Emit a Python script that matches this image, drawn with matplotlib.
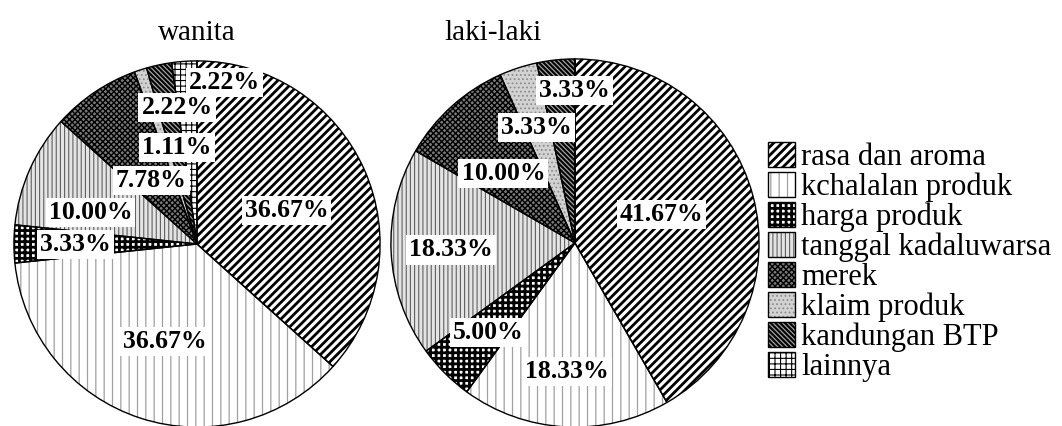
import matplotlib
matplotlib.use("Agg")
import matplotlib.pyplot as plt
from matplotlib.patches import Patch
from matplotlib.legend_handler import HandlerTuple

plt.rcParams['font.family'] = ['Liberation Serif', 'DejaVu Serif']

categories = ["rasa dan aroma", "kchalalan produk", "harga produk",
              "tanggal kadaluwarsa", "merek", "klaim produk",
              "kandungan BTP", "lainnya"]
wanita = [36.67, 36.67, 3.33, 10.00, 7.78, 1.11, 2.22, 2.22]
laki_laki = [41.67, 18.33, 5.00, 18.33, 10.00, 3.33, 3.33, 0.00]

# (face colour, hatch, hatch colour, hatch line width) per category
styles = [
    ("white",   "////",     "black",   2.0),
    ("white",   "||",       "#a0a0a0", 0.9),
    ("white",   "+++",      "black",   2.0),
    ("#e4e4e4", "||||",     "#606060", 0.8),
    ("#7a7a7a", "xxxxxx",   "black",   1.0),
    ("#d2d2d2", "....",     "#8c8c8c", 0.8),
    ("#a0a0a0", "\\" * 7,   "black",   1.5),
    ("white",   "+++",      "black",   0.8),
]

# label positions inside each pie, in units of the pie radius
wanita_label_xy = [(0.489, 0.185), (-0.174, -0.533), (-0.663, -0.005),
                   (-0.582, 0.174), (-0.250, 0.348), (-0.109, 0.527),
                   (-0.109, 0.745), (0.152, 0.880)]
laki_label_xy = [(0.470, 0.157), (-0.043, -0.697), (-0.470, -0.486),
                 (-0.676, -0.038), (-0.389, 0.378), (-0.211, 0.627),
                 (-0.005, 0.827), None]

W, H = 1062, 426
fig = plt.figure(figsize=(W / 100, H / 100), dpi=100)


def hatch_width(patch, lw):
    """Give a patch its own hatch line width."""
    if hasattr(patch, "set_hatch_linewidth"):
        patch.set_hatch_linewidth(lw)
    orig_draw = patch.draw

    def draw(renderer):
        with plt.rc_context({"hatch.linewidth": lw}):
            orig_draw(renderer)
    patch.draw = draw


def styled(patch, face, hatch, hcolor, hlw):
    patch.set_facecolor(face)
    patch.set_edgecolor(hcolor)
    patch.set_hatch(hatch)
    patch.set_linewidth(0)
    hatch_width(patch, hlw)


def draw_pie(cx, cy, r, values, label_xy):
    ax = fig.add_axes([(cx - r) / W, (H - cy - r) / H, 2 * r / W, 2 * r / H])
    wedges, _ = ax.pie(values, startangle=90, counterclock=False, radius=1)
    for w, (face, hatch, hcolor, hlw) in zip(wedges, styles):
        styled(w, face, hatch, hcolor, hlw)
    ax.pie(values, startangle=90, counterclock=False, radius=1,
           wedgeprops=dict(fill=False, edgecolor="black", linewidth=1.0))
    for v, xy in zip(values, label_xy):
        if xy is None or v <= 0:
            continue
        ax.text(xy[0], xy[1], f"{v:.2f}%", ha="center", va="center",
                fontsize=18.5, fontweight="bold",
                bbox=dict(boxstyle="square,pad=0.12", facecolor="white",
                          edgecolor="none"))
    ax.set_xlim(-1.005, 1.005)
    ax.set_ylim(-1.005, 1.005)
    ax.set_aspect("equal")
    ax.axis("off")
    return ax


draw_pie(197, 244, 184, wanita, wanita_label_xy)
draw_pie(575, 243, 185, laki_laki, laki_label_xy)

fig.text(197 / W, 1 - 33 / H, "wanita", ha="center", va="center", fontsize=21)
fig.text(493 / W, 1 - 33 / H, "laki-laki", ha="center", va="center", fontsize=21)

handles = []
for face, hatch, hcolor, hlw in styles:
    fillp = Patch(facecolor=face, edgecolor=hcolor, hatch=hatch, linewidth=0)
    edge = Patch(facecolor="none", edgecolor="black", linewidth=1.0)
    handles.append((fillp, edge))

leg = fig.legend(handles, categories, loc="upper left",
                 bbox_to_anchor=(768 / W, 1 - 142 / H), frameon=False,
                 fontsize=22, handlelength=0.88, handleheight=0.88,
                 handletextpad=0.2, labelspacing=0.0, borderpad=0,
                 borderaxespad=0,
                 handler_map={tuple: HandlerTuple(ndivide=1, pad=0)})
for art, (face, hatch, hcolor, hlw) in zip(leg.legend_handles, styles):
    hatch_width(art, hlw)

fig.savefig("out.png", dpi=100)
